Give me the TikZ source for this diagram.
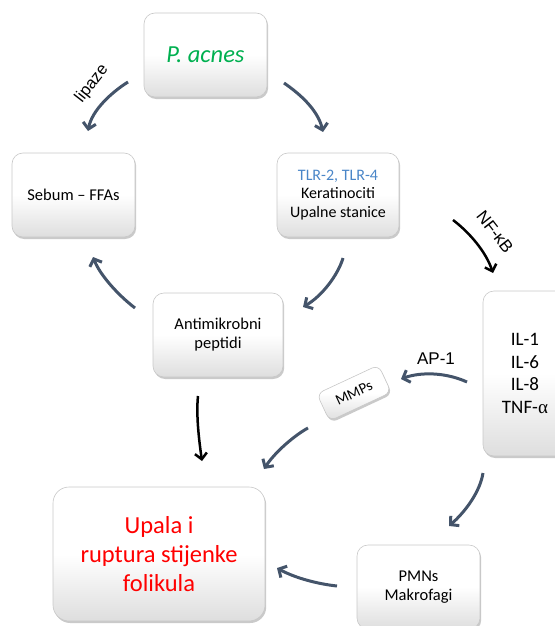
\documentclass[tikz,border=0pt]{standalone}
\usepackage{fontspec}
\setmainfont{Carlito}
\newfontfamily\arialf{Liberation Sans}
\newfontfamily\serifgr{Liberation Serif}
\usetikzlibrary{arrows.meta,shadows}
\definecolor{slate}{HTML}{44546A}
\definecolor{pgreen}{HTML}{00B050}
\definecolor{tblue}{HTML}{4A86C8}
\definecolor{pred}{HTML}{FF0000}
\definecolor{boxline}{HTML}{C8C8C8}
\tikzset{
  box/.style={draw=boxline, line width=0.6pt, rounded corners=11pt,
    top color=white, bottom color=black!13, middle color=white,
    drop shadow={shadow xshift=1.2pt, shadow yshift=-2pt, opacity=0.35, fill=black!60},
    align=center, inner sep=2pt},
  arr/.style={draw=slate, line width=3pt, -{Straight Barb[length=6pt,width=13pt,line width=3pt]}},
  karr/.style={draw=black, line width=2.5pt, -{Straight Barb[length=6pt,width=12pt,line width=2.5pt]}},
  lbl/.style={font=\arialf\fontsize{16.5pt}{18pt}\selectfont, inner sep=0pt}
}
\begin{document}
\begin{tikzpicture}[x=1pt,y=-1pt]
\useasboundingbox (0,0) rectangle (554,626);
% boxes
\node[box, minimum width=123pt, minimum height=84pt,
  font=\fontsize{24.5pt}{28pt}\selectfont\itshape, text=pgreen] (pa) at (205.5,55) {P. acnes};
\node[box, minimum width=123pt, minimum height=84pt,
  font=\fontsize{16.5pt}{18.5pt}\selectfont] (seb) at (73.5,195) {Sebum -- FFAs};
\node[box, minimum width=122pt, minimum height=84pt,
  font=\fontsize{16pt}{18.3pt}\selectfont] (tlr) at (338,195) {\textcolor{tblue}{TLR-2, TLR-4}\\Keratinociti\\Upalne stanice};
\node[box, minimum width=130pt, minimum height=84pt,
  font=\fontsize{16.5pt}{19pt}\selectfont] (anti) at (218,335) {Antimikrobni\\peptidi};
\node[box, minimum width=84pt, minimum height=165pt,
  font=\fontsize{19pt}{22.5pt}\selectfont] (il) at (525,373.5) {IL-1\\IL-6\\IL-8\\TNF-{\serifgr α}};
\node[box, rounded corners=7pt, minimum width=68pt, minimum height=30pt, rotate=25,
  font=\fontsize{15pt}{17pt}\selectfont] (mmp) at (354,393) {MMPs};
\node[box, rounded corners=16pt, minimum width=212pt, minimum height=134pt,
  font=\fontsize{24.5pt}{29pt}\selectfont, text=pred] (upala) at (159,554) {Upala i\\ruptura stijenke\\folikula};
\node[box, minimum width=123pt, minimum height=84pt,
  font=\fontsize{16.5pt}{19pt}\selectfont] (pmn) at (418.5,587) {PMNs\\Makrofagi};
% labels
\node[lbl, rotate=52] (lip) at (92,84) {lipaze};
\node[lbl, font=\arialf\fontsize{17pt}{19pt}\selectfont, rotate=-52] (nfkb) at (495,232) {NF-κB};
\node[lbl, font=\arialf\fontsize{17pt}{19pt}\selectfont] (ap1) at (436,359) {AP-1};
% arrow end points
\coordinate (s1) at (128,82);  \coordinate (e1) at (88,131);
\coordinate (s2) at (284,83);  \coordinate (e2) at (323,132);
\coordinate (s3) at (343,258); \coordinate (e3) at (303,307);
\coordinate (s4) at (135,308); \coordinate (e4) at (93,257);
\coordinate (s5) at (198,396); \coordinate (e5) at (202,461);
\coordinate (s6) at (453,220); \coordinate (e6) at (493,273);
\coordinate (s7) at (467,382); \coordinate (e7) at (401,379);
\coordinate (s8) at (308,428); \coordinate (e8) at (264,469);
\coordinate (s9) at (483,473); \coordinate (e9) at (449,526);
\coordinate (s10) at (337,586); \coordinate (e10) at (277,568);
% connectors
\draw[arr] (s1) .. controls (112,92) and (92,110) .. (e1);
\draw[arr] (s2) .. controls (300,94) and (318,110) .. (e2);
\draw[arr] (s3) .. controls (338,275) and (322,296) .. (e3);
\draw[arr] (s4) .. controls (118,295) and (100,275) .. (e4);
\draw[karr] (s5) .. controls (196,415) and (199,440) .. (e5);
\draw[karr] (s6) .. controls (470,233) and (486,252) .. (e6);
\draw[arr] (s7) .. controls (445,372) and (420,372) .. (e7);
\draw[arr] (s8) .. controls (295,435) and (275,452) .. (e8);
\draw[arr] (s9) .. controls (480,492) and (465,512) .. (e9);
\draw[arr] (s10) .. controls (318,584) and (295,578) .. (e10);
\end{tikzpicture}
\end{document}
